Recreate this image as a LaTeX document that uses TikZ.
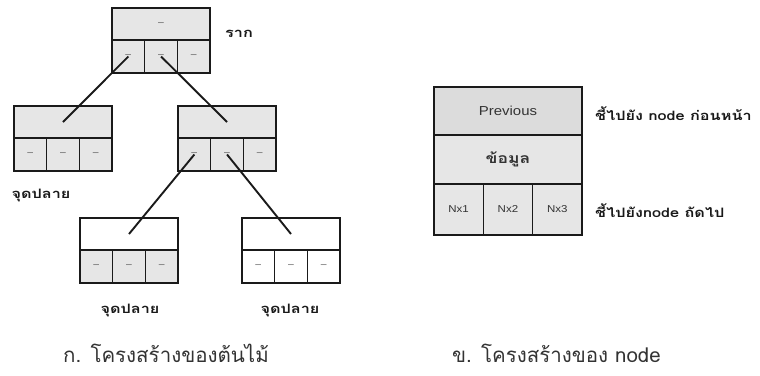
\documentclass[tikz,border=0pt]{standalone}
\usepackage{fontspec}
\setmainfont[Script=Thai]{Loma}
\newfontfamily\widethai[Script=Thai, FakeStretch=1.25]{Loma}
\newfontfamily\fieldfont[FakeStretch=1.15]{Liberation Sans}
\definecolor{cellgray}{HTML}{E6E6E6}
\definecolor{prevgray}{HTML}{DCDCDC}
\definecolor{linecol}{HTML}{1A1A1A}
% one tree node: name, left x, top y, fill of the top part, fill of the cells, text of the top part
\newcommand\treenode[6]{%
  \node[box, fill=#4, minimum width=98pt, minimum height=32pt] (#1-t) at ({#2},{#3}) {#6};
  \node[box, fill=#5] (#1-1) at ({#2},{#3+32}) {–};
  \node[box, fill=#5] (#1-2) at ({#2+32.7},{#3+32}) {–};
  \node[box, fill=#5] (#1-3) at ({#2+65.3},{#3+32}) {–};
}
\begin{document}
\begin{tikzpicture}[x=1pt,y=-1pt,
  box/.style={draw=linecol, line width=1.3pt, minimum width=32.7pt, minimum height=33pt,
    inner sep=0pt, outer sep=0pt, anchor=north west, font=\fieldfont\small, text=black!70},
  link/.style={draw=linecol, line width=1.9pt},
  lbl/.style={font=\widethai\fontsize{13}{15}\selectfont\bfseries, inner sep=0pt, text=black!90},
  captext/.style={font=\fontsize{20.5}{23}\selectfont, inner sep=0pt, text=black!80},
  fld/.style={draw=linecol, line width=1.3pt, inner sep=0pt, outer sep=0pt, anchor=north west,
    fill=cellgray, font=\fieldfont\fontsize{10}{12}\selectfont, text=black!80}]
\useasboundingbox (0,0) rectangle (760,375);

% tree
\treenode{r}{112}{8}{cellgray}{cellgray}{–}
\treenode{a}{14}{106}{cellgray}{cellgray}{}
\treenode{b}{178}{106}{cellgray}{cellgray}{}
\treenode{c}{80}{218}{white}{cellgray}{}
\treenode{d}{242}{218}{white}{white}{}

\draw[link] (r-1.center) -- (a-t.center);
\draw[link] (r-2.center) -- (b-t.center);
\draw[link] (b-1.center) -- (c-t.center);
\draw[link] (b-2.center) -- (d-t.center);

\node[lbl, anchor=west] (root) at (225,34) {ราก};
\node[lbl] (leafa) at (41,195) {จุดปลาย};
\node[lbl] (leafc) at (130,310) {จุดปลาย};
\node[lbl] (leafd) at (290,310) {จุดปลาย};
\node[captext, anchor=west] (capa) at (63,353) {ก. โครงสร้างของต้นไม้};

% structure of one node
\node[fld, fill=prevgray, minimum width=148pt, minimum height=48pt, font=\fieldfont\fontsize{13}{15}\selectfont] (prev) at (434,87) {Previous};
\node[fld, minimum width=148pt, minimum height=49pt, font=\widethai\fontsize{14}{16}\selectfont\bfseries] (data) at (434,135) {ข้อมูล};
\node[fld, minimum width=49.3pt, minimum height=51pt] (nx1) at (434,184) {Nx1};
\node[fld, minimum width=49.3pt, minimum height=51pt] (nx2) at (483.3,184) {Nx2};
\node[fld, minimum width=49.4pt, minimum height=51pt] (nx3) at (532.6,184) {Nx3};

\node[lbl, anchor=west] (prevnote) at (595,114) {ชี้ไปยัง node ก่อนหน้า};
\node[lbl, anchor=west] (nextnote) at (595,211) {ชี้ไปยังnode ถัดไป};
\node[captext, anchor=west] (capb) at (452,353) {ข. โครงสร้างของ node};
\end{tikzpicture}
\end{document}
